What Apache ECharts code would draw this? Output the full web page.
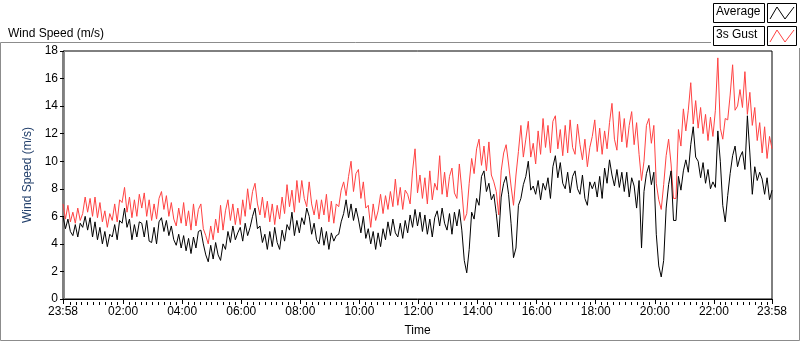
<!DOCTYPE html>
<html>
<head>
<meta charset="utf-8">
<title>Wind Speed</title>
<script src="https://cdn.jsdelivr.net/npm/echarts@6/dist/echarts.min.js"></script>
<style>
html,body{margin:0;padding:0;background:#fff}
#main{width:800px;height:342px}
</style>
</head>
<body>
<div id="main"></div>
<script>
// readings every 5 minutes, first one at 23:58 of the previous day (-2 min)
var startMin = -2
var stepMin = 5

// 1 min average (m/s)
var average = [
  6.0,5.1,5.8,4.9, 4.6,5.4,4.5,5.5, 5.2,6.0,5.0,5.9, 4.5,5.6,4.3,5.2,
  4.0,4.9,3.8,4.7, 4.5,5.4,4.3,5.7, 5.5,6.6,5.2,5.8, 4.3,5.4,4.5,5.6,
  5.5,4.5,5.7,4.2, 4.1,5.2,4.0,5.6, 5.9,4.9,5.7,4.6, 5.3,4.3,3.9,4.7,
  3.7,4.6,3.5,4.4, 3.3,4.5,3.7,4.9, 5.0,4.0,3.2,2.7, 3.9,2.9,4.1,3.2,
  2.8,4.0,3.6,4.9, 4.1,5.3,4.3,4.8, 5.2,4.2,5.5,4.6, 5.2,6.0,6.6,5.1,
  5.3,4.1,4.7,3.6, 4.9,3.8,5.2,4.1, 3.6,5.0,4.2,5.4, 5.0,6.3,4.6,5.7,
  4.8,5.9,5.4,6.6, 6.0,4.7,5.5,4.3, 4.0,5.2,3.9,4.9, 3.6,4.8,4.2,4.6,
  4.7,5.6,6.2,7.2, 5.9,6.9,5.7,6.6, 5.8,4.8,6.0,4.4, 5.1,4.0,4.9,3.6,
  4.8,3.8,5.1,4.3, 5.6,4.6,5.8,4.8, 4.5,5.5,4.4,5.7, 4.8,6.1,5.2,6.5,
  5.3,6.3,4.9,6.1, 4.7,5.8,4.5,5.9, 6.4,5.3,6.6,5.5, 5.0,6.2,4.7,6.3,
  5.3,6.5,5.0,2.8, 1.9,3.6,6.3,5.8, 7.3,6.8,8.9,9.3, 7.8,8.4,7.2,7.6,
  6.2,4.5,7.4,8.4, 8.9,7.6,5.5,3.0, 3.7,6.8,7.3,8.3, 8.9,10.0,7.9,8.2,
  7.6,8.6,7.2,8.4, 7.9,8.8,7.3,9.6, 10.4,8.8,9.9,8.4, 8.0,9.2,7.7,8.9,
  9.3,8.0,7.6,9.0, 7.3,6.8,8.5,8.0, 8.5,7.4,8.9,7.3, 9.5,8.4,10.1,9.0,
  8.2,9.4,8.1,9.2, 7.8,9.2,7.4,8.8, 8.2,6.6,8.6,3.7, 7.8,9.1,9.7,8.3,
  9.2,4.7,2.4,1.6, 2.8,6.6,8.3,9.3, 5.7,5.7,8.9,7.9, 9.3,10.1,9.2,11.2,
  12.5,10.3,10.0,8.8, 9.9,8.4,9.4,8.0, 8.5,8.1,12.2,10.0, 6.8,5.6,7.5,9.1,
  10.4,11.1,9.6,10.3, 10.7,9.4,13.3,10.6, 7.6,9.6,8.6,9.2, 8.7,7.6,8.8,7.2,7.9
]

// 3 second gust (m/s)
var gust = [
  6.9,5.8,6.8,5.6, 6.3,5.5,6.6,5.7, 6.2,7.4,6.3,7.3, 6.0,7.4,5.9,7.0,
  5.6,6.4,5.2,6.2, 5.7,6.9,5.6,7.2, 7.0,8.1,6.3,7.4, 5.9,7.2,6.0,7.6,
  6.6,7.7,6.0,7.2, 5.7,6.9,5.8,7.3, 7.8,6.5,7.5,6.0, 7.0,5.8,5.3,6.6,
  5.5,7.0,5.3,6.4, 5.0,6.9,5.3,6.5, 6.9,5.1,4.6,4.0, 5.3,4.3,5.8,4.8,
  6.8,5.0,6.4,7.2, 5.7,6.9,5.4,6.6, 5.4,7.2,6.0,8.0, 6.5,7.8,8.4,6.9,
  6.1,7.4,5.9,7.1, 5.6,6.9,5.4,6.8, 5.8,7.4,6.2,8.3, 6.7,7.9,6.3,8.6,
  7.0,8.6,7.3,6.7, 8.5,6.9,6.1,7.2, 5.8,7.2,6.1,7.6, 5.6,7.1,5.5,6.9,
  6.7,7.9,8.5,7.5, 8.9,10.0,7.8,9.1, 9.4,7.3,8.5,6.6, 6.8,5.2,6.9,5.7,
  6.4,7.6,6.2,7.5, 6.5,7.8,6.7,8.7, 6.8,8.1,6.5,7.9, 7.6,6.9,9.3,10.9,
  7.7,9.0,7.3,8.8, 6.9,9.3,7.2,8.4, 7.9,10.4,7.6,9.2, 7.4,8.9,9.5,7.7,
  7.3,9.8,7.9,5.7, 6.2,8.4,10.2,9.1, 10.9,11.6,9.7,11.1, 9.3,11.4,9.0,8.5,
  7.8,6.1,9.3,10.6, 11.2,9.8,8.2,6.8, 9.0,10.7,12.6,10.3, 11.6,12.9,10.3,11.3,
  9.8,12.2,10.5,13.1, 11.0,12.6,10.6,12.9, 13.3,10.9,12.3,10.4, 12.6,10.6,13.0,11.0,
  10.5,12.7,11.2,10.1, 11.6,9.6,11.0,11.8, 13.0,10.7,12.4,10.5, 12.2,10.9,12.8,14.2,
  11.6,10.8,13.6,11.4, 13.1,11.0,12.6,13.6, 11.2,12.8,10.5,8.6, 10.0,12.6,13.1,11.3,
  12.6,8.4,7.2,6.5, 8.3,10.4,11.6,9.8, 7.3,7.3,12.3,11.1, 13.8,12.2,13.7,15.7,
  12.7,14.4,12.4,13.9, 12.0,13.4,11.5,13.2, 11.8,13.7,17.5,12.4, 11.6,13.1,13.0,14.8,
  17.0,13.7,14.0,15.2, 13.9,16.5,13.4,15.0, 12.6,13.9,11.5,12.8, 10.6,12.5,10.2,11.8,10.9
]

var tickLabels = ['23:58','02:00','04:00','06:00','08:00','10:00','12:00',
                  '14:00','16:00','18:00','20:00','22:00','23:58']
var yMax = 18
var yStep = 2

// tick positions in minutes from midnight, first label is the day before
var majorTicks = []
var labelOf = {}
tickLabels.forEach(function(s, i){
  var p = s.split(':')
  var v = (+p[0]) * 60 + (+p[1])
  if (i == 0) v -= 1440
  majorTicks.push(v)
  labelOf[v] = s
})
var xMin = majorTicks[0]
var xMax = majorTicks[majorTicks.length - 1]
var minorTicks = []
for (var m = 0; m < xMax; m += 12) {
  if (m % 120 != 0) minorTicks.push(m)
}

function pairs(arr){
  return arr.map(function(v, i){ return [startMin + i * stepMin, v] })
}

var font = '"Liberation Sans", Arial, sans-serif'
var gridTop = 51, gridBottom = 40

var chart = echarts.init(document.getElementById('main'))
chart.setOption({
  animation: false,
  textStyle: { fontFamily: font },
  title: {
    text: 'Wind Speed (m/s)', left: 3, top: 23,
    textStyle: { fontSize: 12, fontWeight: 'normal', color: '#000', fontFamily: font }
  },
  grid: {
    left: 63, right: 28, top: gridTop, bottom: gridBottom,
    show: true, borderColor: '#000', borderWidth: 1, backgroundColor: '#fff'
  },
  xAxis: [{
    type: 'value', min: xMin, max: xMax, position: 'bottom',
    name: 'Time', nameLocation: 'middle', nameGap: 26,
    nameTextStyle: { fontSize: 12, color: '#000', fontFamily: font },
    axisLine: { lineStyle: { color: '#000' } },
    axisTick: { customValues: majorTicks, length: 5, lineStyle: { color: '#000' } },
    axisLabel: {
      customValues: majorTicks, margin: 7, fontSize: 12, color: '#000', fontFamily: font,
      formatter: function(v){ return labelOf[v] || '' }
    },
    splitLine: { show: false }
  }, {
    // minor ticks, pulled down onto the bottom edge
    type: 'value', min: xMin, max: xMax, position: 'top', offset: -(342 - gridTop - gridBottom),
    axisLine: { show: false },
    axisTick: { inside: true, customValues: minorTicks, length: 3, lineStyle: { color: '#000' } },
    axisLabel: { show: false },
    splitLine: { show: false }
  }],
  yAxis: [{
    type: 'value', min: 0, max: yMax, interval: yStep,
    name: 'Wind Speed (m/s)', nameLocation: 'middle', nameGap: 19,
    nameTextStyle: { fontSize: 12, color: '#23406c', fontFamily: font },
    axisLine: { show: true, lineStyle: { color: '#000' } },
    axisTick: { show: true, length: 4, lineStyle: { color: '#000' } },
    axisLabel: { fontSize: 12, color: '#000', margin: 5, fontFamily: font },
    splitLine: { show: false }
  }, {
    type: 'value', min: 0, max: yMax, position: 'right',
    axisLine: { show: true, lineStyle: { color: '#8c8c8c' } },
    axisTick: { show: false }, axisLabel: { show: false }, splitLine: { show: false }
  }],
  series: [{
    name: '3s Gust', type: 'line', data: pairs(gust), showSymbol: false,
    lineStyle: { width: 1, color: '#ff4242' }, itemStyle: { color: '#ff4242' }
  }, {
    name: 'Average', type: 'line', data: pairs(average), showSymbol: false,
    lineStyle: { width: 1, color: '#000' }, itemStyle: { color: '#000' }
  }],
  graphic: [
    // panel frame
    { type: 'polyline', silent: true, shape: { points: [[711, 42.5], [0.5, 42.5], [0.5, 340.5], [799.5, 340.5], [799.5, 48]] },
      style: { stroke: '#8c8c8c', fill: null, lineWidth: 1 } },
    // legend boxes
    { type: 'rect', shape: { x: 713.5, y: 3.5, width: 51, height: 19 }, style: { stroke: '#000', fill: '#fff' } },
    { type: 'text', left: 716, top: 6, style: { text: 'Average', font: '12px ' + font, fill: '#000' } },
    { type: 'rect', shape: { x: 767.5, y: 3.5, width: 29, height: 19 }, style: { stroke: '#000', fill: '#fff' } },
    { type: 'polyline', shape: { points: [[770, 19], [777, 7], [785, 19], [794, 7]] }, style: { stroke: '#000', fill: null } },
    { type: 'rect', shape: { x: 713.5, y: 26.5, width: 51, height: 19 }, style: { stroke: '#000', fill: '#fff' } },
    { type: 'text', left: 716, top: 29, style: { text: '3s Gust', font: '12px ' + font, fill: '#000' } },
    { type: 'rect', shape: { x: 767.5, y: 26.5, width: 29, height: 19 }, style: { stroke: '#000', fill: '#fff' } },
    { type: 'polyline', shape: { points: [[770, 42], [777, 30], [785, 42], [794, 30]] }, style: { stroke: '#ff4242', fill: null } }
  ]
})
</script>
</body>
</html>
